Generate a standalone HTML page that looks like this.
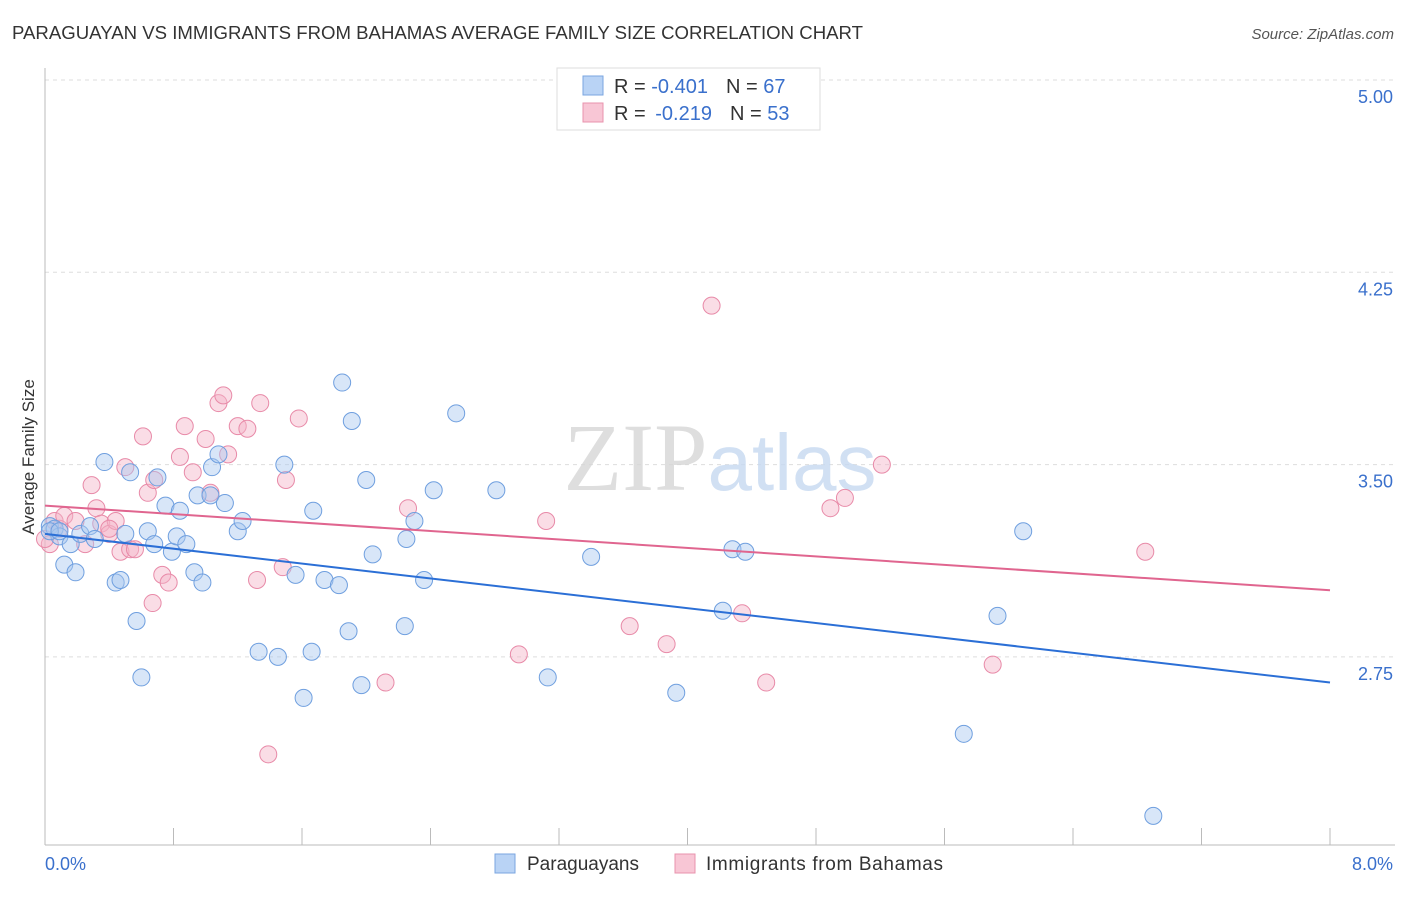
<!DOCTYPE html>
<html><head><meta charset="utf-8"><style>
body{margin:0;background:#fff;font-family:"Liberation Sans",sans-serif}
svg text{font-family:"Liberation Sans",sans-serif}
</style></head><body>
<svg id="chart" width="1406" height="892" viewBox="0 0 1406 892">
<text x="12" y="39" font-size="18" fill="#333" textLength="851" lengthAdjust="spacingAndGlyphs">PARAGUAYAN VS IMMIGRANTS FROM BAHAMAS AVERAGE FAMILY SIZE CORRELATION CHART</text>
<text x="1394" y="39" font-size="15" fill="#555" text-anchor="end" font-style="italic">Source: ZipAtlas.com</text>
<text transform="translate(34,457) rotate(-90)" font-size="17" fill="#333" text-anchor="middle">Average Family Size</text>
<g id="grid"></g>
<text x="720" y="490" font-size="96" text-anchor="middle" fill="#ddd" opacity="0.8"><tspan font-family="Liberation Serif" fill="#d6d6d6">ZIP</tspan><tspan fill="#c6d9f1" font-size="80">atlas</tspan></text>
<g id="marks"></g>
<g>
<rect x="557" y="68" width="263" height="62" fill="#fff" stroke="#ddd"/>
<rect x="583" y="76" width="20" height="19" fill="#b9d3f5" stroke="#7aa6e0"/>
<text x="614" y="93" font-size="20" fill="#333">R = <tspan fill="#3a70cc">-0.401</tspan><tspan dx="18">N = </tspan><tspan fill="#3a70cc">67</tspan></text>
<rect x="583" y="103" width="20" height="19" fill="#f8c6d5" stroke="#e893ad"/>
<text x="614" y="120" font-size="20" fill="#333">R = <tspan fill="#3a70cc" dx="4">-0.219</tspan><tspan dx="18">N = </tspan><tspan fill="#3a70cc">53</tspan></text>
</g>
<g>
<rect x="495" y="854" width="20" height="19" fill="#b9d3f5" stroke="#7aa6e0"/>
<text x="527" y="870" font-size="19" fill="#333">Paraguayans</text>
<rect x="675" y="854" width="20" height="19" fill="#f8c6d5" stroke="#e893ad"/>
<text x="706" y="870" font-size="19" fill="#333" textLength="237">Immigrants from Bahamas</text>
</g>
</svg>
<script>
const xTickLabels=["0.0%","8.0%"];
const yTicks=[5.00,4.25,3.50,2.75];
const blueX=[0.03,0.06,0.09,0.12,0.16,0.19,0.22,0.28,0.31,0.37,0.44,0.47,0.50,0.53,0.57,0.60,0.64,0.68,0.70,0.75,0.79,0.82,0.84,0.88,0.93,0.95,0.98,1.04,1.08,1.03,1.12,1.20,1.23,1.33,1.45,1.49,1.56,1.61,1.66,1.67,1.74,1.83,1.85,1.89,1.91,1.97,2.00,2.04,2.24,2.25,2.30,2.36,2.42,2.56,2.81,3.13,3.40,3.93,4.22,4.28,4.36,5.72,5.93,6.09,6.90,0.03,0.09];
const blueY=[3.26,3.25,3.22,3.11,3.19,3.08,3.23,3.26,3.21,3.51,3.04,3.05,3.23,3.47,2.89,2.67,3.24,3.19,3.45,3.34,3.16,3.22,3.32,3.19,3.08,3.38,3.04,3.49,3.54,3.38,3.35,3.24,3.28,2.77,2.75,3.50,3.07,2.59,2.77,3.32,3.05,3.03,3.82,2.85,3.67,2.64,3.44,3.15,2.87,3.21,3.28,3.05,3.40,3.70,3.40,2.67,3.14,2.61,2.93,3.17,3.16,2.45,2.91,3.24,2.13,3.24,3.24];
const pinkX=[0.03,0.06,0.09,0.12,0.19,0.25,0.29,0.32,0.35,0.40,0.44,0.47,0.50,0.53,0.56,0.61,0.64,0.68,0.73,0.77,0.84,0.87,0.92,1.00,1.03,1.08,1.11,1.14,1.20,1.26,1.32,1.34,1.48,1.50,1.58,2.12,2.26,1.39,2.95,3.12,3.64,3.87,4.15,4.34,4.49,4.89,4.98,5.21,5.90,6.85,0.67,0.40,0.00];
const pinkY=[3.19,3.28,3.25,3.30,3.28,3.19,3.42,3.33,3.27,3.23,3.28,3.16,3.49,3.17,3.17,3.61,3.39,3.44,3.07,3.04,3.53,3.65,3.47,3.60,3.39,3.74,3.77,3.54,3.65,3.64,3.05,3.74,3.10,3.44,3.68,2.65,3.33,2.37,2.76,3.28,2.87,2.80,4.12,2.92,2.65,3.33,3.37,3.50,2.72,3.16,2.96,3.25,3.21];
const blueTrend=[3.23,2.65];
const pinkTrend=[3.34,3.01];
const X0=45,X1=1330,Y5=80,PPU=256.4;
const xs=v=>X0+v/8*(X1-X0);
const ys=v=>Y5+(5-v)*PPU;
const NS="http://www.w3.org/2000/svg";
const grid=document.getElementById('grid'),marks=document.getElementById('marks');
function mk(tag,attrs,parent){const e=document.createElementNS(NS,tag);for(const k in attrs)e.setAttribute(k,attrs[k]);parent.appendChild(e);return e;}
yTicks.forEach(t=>{
 const l=mk('line',{x1:X0,x2:1395,y1:ys(t),y2:ys(t),stroke:'#ddd','stroke-dasharray':'4,4'},grid);
 
 
 const tx=mk('text',{x:1393,y:ys(t)+23,'font-size':18,fill:'#3a70cc','text-anchor':'end'},grid);
 tx.textContent=t.toFixed(2);
 
 
});
const ax=mk('line',{x1:X0,x2:X0,y1:68,y2:845,stroke:'#bbb'},grid);


const bx=mk('line',{x1:X0,x2:1395,y1:845,y2:845,stroke:'#bbb'},grid);


for(let i=0;i<=10;i++){const tk=mk('line',{x1:xs(i*0.8),x2:xs(i*0.8),y1:828,y2:845,stroke:'#bbb'},grid);
 
 }
const xl0=mk('text',{x:45,y:870,'font-size':18,fill:'#3a70cc'},grid);xl0.textContent=xTickLabels[0];


const xl1=mk('text',{x:1393,y:870,'font-size':18,fill:'#3a70cc','text-anchor':'end'},grid);xl1.textContent=xTickLabels[1];


function pts(X,Y,fill,stroke,name){X.forEach((x,i)=>{const c=mk('circle',{cx:xs(x),cy:ys(Y[i]),r:8.5,fill:fill,'fill-opacity':0.45,stroke:stroke,'stroke-width':1},marks);
 
 });}
pts(pinkX,pinkY,'#f4b3c8','#e88aa8','bahamas-point');
pts(blueX,blueY,'#a9c8f0','#6f9fdf','paraguayan-point');
const bl=mk('line',{x1:xs(0),y1:ys(blueTrend[0]),x2:xs(8),y2:ys(blueTrend[1]),stroke:'#2b6fd6','stroke-width':2},marks);


const pl=mk('line',{x1:xs(0),y1:ys(pinkTrend[0]),x2:xs(8),y2:ys(pinkTrend[1]),stroke:'#e0658f','stroke-width':2},marks);


</script>
</body></html>
